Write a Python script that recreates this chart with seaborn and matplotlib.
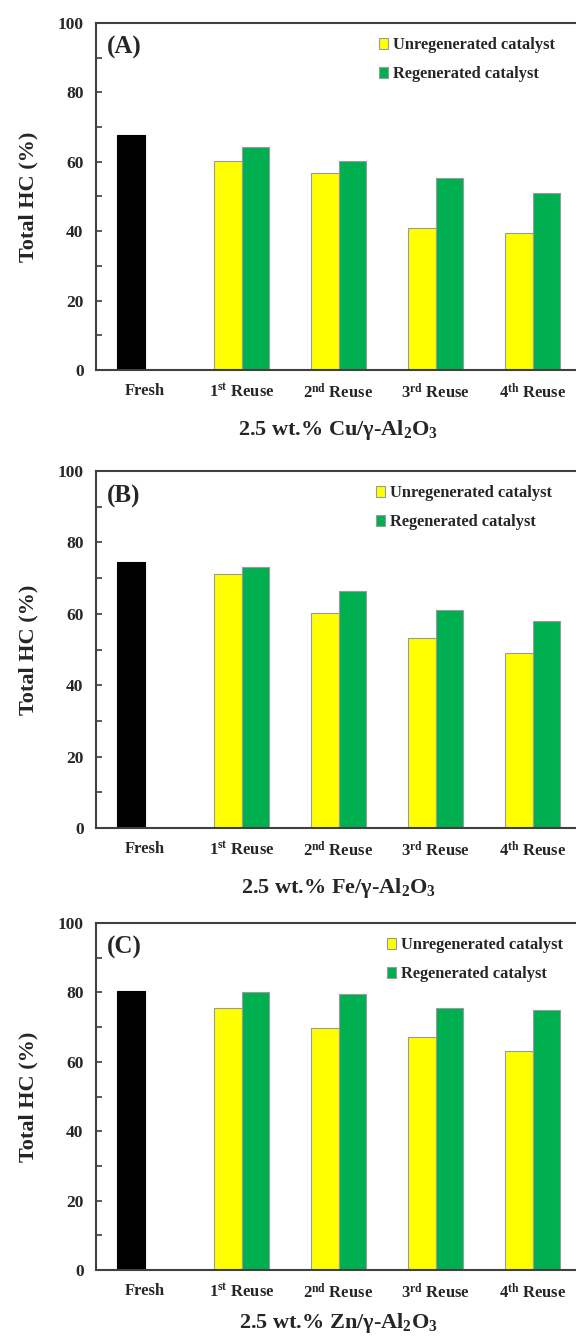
import numpy as np
import pandas as pd
import matplotlib
matplotlib.use("Agg")
import matplotlib.pyplot as plt
import seaborn as sns
from matplotlib.patches import Patch
from matplotlib.ticker import MultipleLocator

# ---- data ----
categories = ["Fresh", "1st Reuse", "2nd Reuse", "3rd Reuse", "4th Reuse"]
tick_labels = ["Fresh", "1$^{st}$ Reuse", "2$^{nd}$ Reuse", "3$^{rd}$ Reuse", "4$^{th}$ Reuse"]
series = ["Unregenerated catalyst", "Regenerated catalyst"]

cu_unreg = [67.6, 60.2, 56.9, 41.0, 39.4]
cu_reg = [np.nan, 64.2, 60.2, 55.2, 51.0]
fe_unreg = [74.6, 71.1, 60.3, 53.3, 49.1]
fe_reg = [np.nan, 73.0, 66.3, 61.0, 58.1]
zn_unreg = [80.3, 75.5, 69.6, 67.2, 63.1]
zn_reg = [np.nan, 80.2, 79.4, 75.4, 75.0]

panel_tags = ["(A)", "(B)", "(C)"]
panel_titles = ["2.5 wt.% Cu/\u03b3-Al$_2$O$_3$",
                "2.5 wt.% Fe/\u03b3-Al$_2$O$_3$",
                "2.5 wt.% Zn/\u03b3-Al$_2$O$_3$"]
panels = [(cu_unreg, cu_reg), (fe_unreg, fe_reg), (zn_unreg, zn_reg)]

colors = {"Unregenerated catalyst": "#FFFF00", "Regenerated catalyst": "#00B050"}
fresh_color = "#000000"

sns.set_style("white")
plt.rcParams["font.family"] = ["Liberation Serif", "DejaVu Serif"]
plt.rcParams["font.weight"] = "bold"
plt.rcParams["mathtext.fontset"] = "custom"
plt.rcParams["mathtext.rm"] = "Liberation Serif:bold"
plt.rcParams["mathtext.it"] = "Liberation Serif:bold"
plt.rcParams["mathtext.bf"] = "Liberation Serif:bold"
plt.rcParams["mathtext.default"] = "rm"

fig = plt.figure(figsize=(5.76, 13.36), dpi=100)
H = 1336.0
W = 576.0
boxes = [(23, 370), (471, 828), (923, 1270)]
legend_right = [565, 562, 573]
xlabel_pads = [11, 11, 6]
left_px, right_px = 96, 581

for i, ((unreg, reg), (top, bot)) in enumerate(zip(panels, boxes)):
    ax = fig.add_axes([left_px / W, 1 - bot / H, (right_px - left_px) / W, (bot - top) / H])
    df = pd.DataFrame({
        "Stage": categories * 2,
        "Catalyst": [series[0]] * 5 + [series[1]] * 5,
        "HC": list(unreg) + list(reg),
    })
    sns.barplot(data=df, x="Stage", y="HC", hue="Catalyst", order=categories,
                hue_order=series, palette=colors, width=0.57, ax=ax,
                edgecolor="#9a9a9a", linewidth=0.8, errorbar=None, legend=False,
                saturation=1)
    # fresh bar in black
    for p in ax.patches:
        cx = p.get_x() + p.get_width() / 2
        if cx < 0.5 and np.isfinite(p.get_height()) and p.get_height() > 0:
            p.set_facecolor(fresh_color)
            p.set_edgecolor(fresh_color)
    ax.set_xlim(-0.5, 4.5)
    ax.set_ylim(0, 100)
    ax.yaxis.set_major_locator(MultipleLocator(20))
    ax.yaxis.set_minor_locator(MultipleLocator(10))
    ax.tick_params(axis="y", which="both", direction="in", left=True, length=4,
                   width=1.2, color="#404040", labelsize=12.5, pad=9)
    ax.tick_params(axis="x", which="both", bottom=False, labelsize=12, pad=6)
    ax.set_xticks(range(5))
    ax.set_xticklabels(tick_labels, fontweight="bold")
    for lab in ax.get_yticklabels():
        lab.set_fontweight("bold")
    ax.set_ylabel("Total HC (%)", fontsize=16, fontweight="bold", labelpad=14)
    ax.set_xlabel(panel_titles[i], fontsize=16, fontweight="bold", labelpad=xlabel_pads[i])
    for s in ["left", "bottom", "top"]:
        ax.spines[s].set_color("#404040")
        ax.spines[s].set_linewidth(1.5)
    ax.spines["right"].set_visible(False)
    ax.text(0.023, 0.93, panel_tags[i], transform=ax.transAxes, fontsize=18,
            fontweight="bold", va="center", ha="left")
    handles = [Patch(facecolor=colors[s], edgecolor="#9a9a9a", linewidth=0.8, label=s)
               for s in series]
    ax.legend(handles=handles, loc="upper right", frameon=False,
              bbox_to_anchor=((legend_right[i] - left_px + 4) / (right_px - left_px), 1.0),
              prop={"family": "Liberation Serif", "weight": "bold", "size": 11.8},
              handlelength=0.55, handleheight=0.65, handletextpad=0.3, labelspacing=0.8,
              borderaxespad=0.45)

fig.savefig("out.png", dpi=100)
